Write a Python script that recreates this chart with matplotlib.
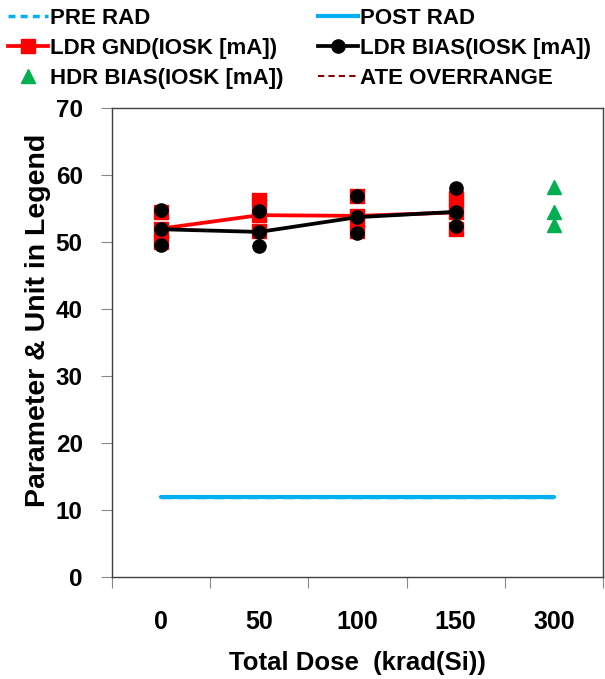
import numpy as np
import matplotlib
matplotlib.use("Agg")
import matplotlib.pyplot as plt
from matplotlib.lines import Line2D

plt.rcParams['font.family'] = ['Liberation Sans', 'DejaVu Sans']
plt.rcParams['font.weight'] = 'bold'

# Dose steps (category axis)
doses = ["0", "50", "100", "150", "300"]

# Individual unit readings, IOSK [mA]
ldr_gnd = [
    [54.5, 52.0, 50.0],
    [56.3, 54.0, 51.7],
    [56.8, 53.9, 51.6],
    [56.5, 54.4, 51.9],
]
ldr_bias = [
    [54.8, 51.9, 49.6],
    [54.6, 51.5, 49.4],
    [56.9, 53.7, 51.3],
    [58.0, 54.5, 52.4],
]
hdr_bias = [58.2, 54.5, 52.5]

# Specification limits
pre_rad_limit = 12.0
post_rad_limit = 12.0

fig = plt.figure(figsize=(6.05, 6.79), dpi=100)
ax = fig.add_axes([0.185, 0.1502, 0.8117, 0.6908])

xpos = np.arange(len(doses))
ldr_x = xpos[:4]

# limit lines
ax.plot([xpos[0], xpos[-1]], [pre_rad_limit] * 2, color='#00B0F0', lw=2.5,
        ls=(0, (3, 2)), zorder=2)
ax.plot([xpos[0], xpos[-1]], [post_rad_limit] * 2, color='#00B0F0', lw=3.0,
        solid_capstyle='round', zorder=3)

# LDR GND
for x, vals in zip(ldr_x, ldr_gnd):
    ax.plot([x] * len(vals), vals, ls='none', marker='s', ms=9.8,
            color='#FF0000', mec='#FF0000', zorder=4)
ax.plot(ldr_x, [np.median(v) for v in ldr_gnd], color='#FF0000', lw=2.7, zorder=5)

# LDR BIAS
for x, vals in zip(ldr_x, ldr_bias):
    ax.plot([x] * len(vals), vals, ls='none', marker='o', ms=9.5,
            color='black', zorder=6)
ax.plot(ldr_x, [np.median(v) for v in ldr_bias], color='black', lw=2.7, zorder=7)

# HDR BIAS
ax.plot([xpos[4]] * len(hdr_bias), hdr_bias, ls='none', marker='^', ms=10,
        color='#00B050', zorder=6)

ax.set_xlim(-0.5, 4.5)
ax.set_ylim(0, 70)
ax.set_yticks(np.arange(0, 71, 10))
ax.set_xticks(np.arange(-0.5, 4.6, 1.0))
ax.set_xticklabels([])
ax.set_xticks(xpos, minor=True)
ax.set_xticklabels(doses, minor=True)
ax.tick_params(axis='x', which='minor', length=0, pad=24, labelsize=18)
ax.tick_params(axis='x', which='major', direction='out', length=8, color='#888888')
ax.tick_params(axis='y', direction='out', length=8, color='#888888', labelsize=17.5, pad=13)
for lbl in ax.get_xticklabels(minor=True) + ax.get_yticklabels():
    lbl.set_fontweight('bold')
for s in ax.spines.values():
    s.set_color('#404040')
    s.set_linewidth(1.0)

ax.set_xlabel("Total Dose  (krad(Si))", fontsize=18.5, fontweight='bold', labelpad=12)
ax.set_ylabel("Parameter & Unit in Legend", fontsize=20.5, fontweight='bold')
ax.yaxis.set_label_coords(-0.125, 0.548)

handles = [
    Line2D([], [], color='#00B0F0', lw=2.5, ls=(0, (2, 1.5))),
    Line2D([], [], color='#FF0000', lw=2.7, marker='s', ms=9.8),
    Line2D([], [], color='#00B050', ls='none', marker='^', ms=10),
    Line2D([], [], color='#00B0F0', lw=3),
    Line2D([], [], color='black', lw=2.7, marker='o', ms=9.5),
    Line2D([], [], color='#8B0000', lw=1.5, ls=(0, (3, 2))),
]
labels = ["PRE RAD", "LDR GND(IOSK [mA])", "HDR BIAS(IOSK [mA])",
          "POST RAD", "LDR BIAS(IOSK [mA])", "ATE OVERRANGE"]
leg = fig.legend(handles, labels, ncol=2, loc='upper left',
                 bbox_to_anchor=(8 / 605, 1 - 8 / 679), frameon=False,
                 borderpad=0, borderaxespad=0,
                 prop={'size': 16, 'weight': 'bold'},
                 handlelength=1.8, handletextpad=0.1, columnspacing=1.55,
                 labelspacing=0.4)

fig.savefig("out.png", dpi=100)
